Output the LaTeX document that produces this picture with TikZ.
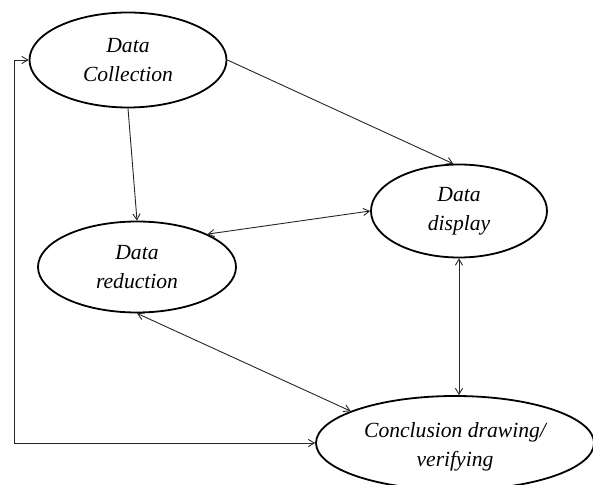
\documentclass[tikz,border=0pt]{standalone}
\usepackage{fontspec}
\setmainfont{Liberation Serif}
\usetikzlibrary{shapes.geometric,arrows.meta}

\tikzset{
  stage/.style={ellipse, draw=black, line width=0.9pt, inner sep=0pt,
    align=center, font=\itshape\fontsize{10.8}{14.5}\selectfont},
  caption/.style={align=center, inner sep=0pt,
    font=\itshape\fontsize{10.8}{14.5}\selectfont},
  flow/.style={draw=black!85, line width=0.45pt,
    -{Straight Barb[length=3pt,width=3.6pt]}},
  twoway/.style={draw=black!85, line width=0.45pt,
    {Straight Barb[length=3pt,width=3.6pt]}-{Straight Barb[length=3pt,width=3.6pt]}}
}

\begin{document}
\begin{tikzpicture}[x=0.5pt,y=-0.5pt]
  \path[use as bounding box] (0,0) rectangle (593,485);
  \clip (0,0) rectangle (593,485);

  % the four stages
  \node[stage, minimum width=98.5pt, minimum height=47.5pt] (coll) at (128,60)
    {Data\\Collection};
  \node[stage, minimum width=99pt, minimum height=45.5pt] (red) at (137,267)
    {Data\\reduction};
  \node[stage, minimum width=88pt, minimum height=46.5pt] (disp) at (459,211)
    {Data\\display};
  \node[stage, minimum width=139pt, minimum height=47pt] (concl) at (455,443) {};
  \node[caption] (concltxt) at (455,447) {Conclusion drawing/\\verifying};

  % loop-back line on the left
  \coordinate (fbtop) at (14,60);
  \coordinate (fbbot) at (14,443);

  % connectors
  \draw[flow] (coll.east) -- (disp.97);
  \draw[flow] (coll.south) -- (red.north);
  \draw[twoway] (red.25) -- (disp.west);
  \draw[twoway] (disp.south) -- (disp.south |- concl.north);
  \draw[twoway] (red.south) -- (concl.163);
  \draw[twoway] (coll.west) -- (fbtop) -- (fbbot) -- (concl.west);
\end{tikzpicture}
\end{document}
